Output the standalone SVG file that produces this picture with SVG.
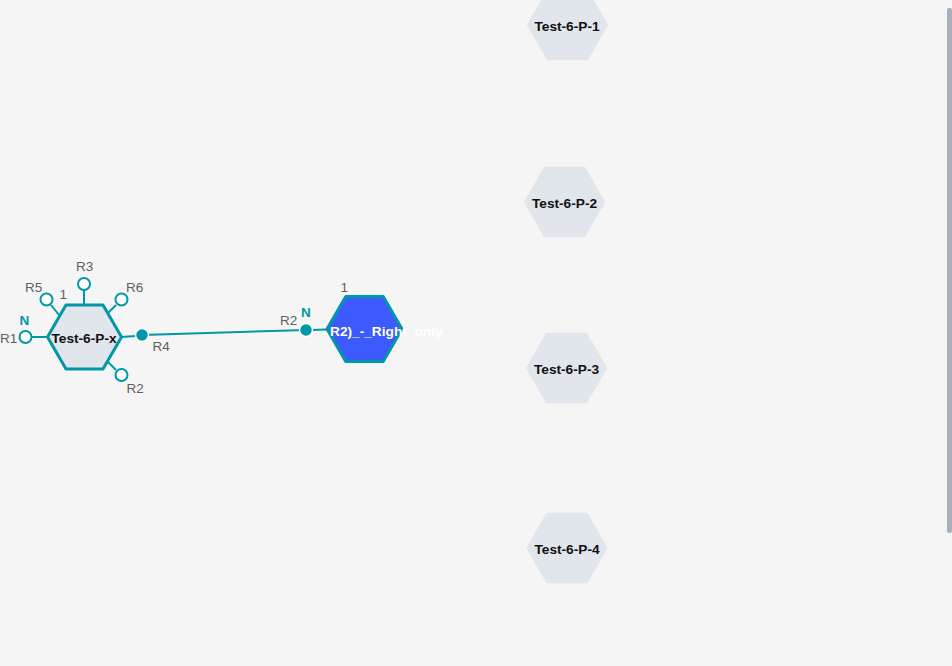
<svg xmlns="http://www.w3.org/2000/svg" width="952" height="666" viewBox="0 0 952 666">
<style>
.bg{fill:#f5f5f5}
.hex{fill:#e1e5ec;stroke:#e1e5ec;stroke-width:2;stroke-linejoin:round}
.hexs{fill:#e1e5ec;stroke:#0097a7;stroke-width:3;stroke-linejoin:round}
.hexb{fill:#3d5afe;stroke:#0097a7;stroke-width:3;stroke-linejoin:round}
.t{font-family:"Liberation Sans",Arial,sans-serif;font-weight:bold;font-size:13.7px;fill:#111}
.tw{font-family:"Liberation Sans",Arial,sans-serif;font-weight:bold;font-size:13.7px;fill:#ffffff}
.lbl{font-family:"Liberation Sans",Arial,sans-serif;font-size:13.5px;fill:#5f5f5f}
.n{font-family:"Liberation Sans",Arial,sans-serif;font-weight:bold;font-size:13.5px;fill:#0097a7}
.stub{stroke:#0097a7;stroke-width:2;fill:none}
.pin{fill:#ffffff;stroke:#0097a7;stroke-width:2}
.pout{fill:#0097a7;stroke:#ffffff;stroke-width:1.5}
.edge{stroke:#0097a7;stroke-width:2;fill:none}
</style>
<rect class="bg" x="0" y="0" width="952" height="666"/>
<g id="connectors">
<line class="edge" x1="142" y1="335" x2="306" y2="330"/>
</g>
<g id="node-Test-6-P-1">
<polygon class="hex" points="528,25 547.75,-9.2 587.25,-9.2 607,25 587.25,59.2 547.75,59.2"/>
<text class="t" x="567" y="31" text-anchor="middle">Test-6-P-1</text>
</g>
<g id="node-Test-6-P-2">
<polygon class="hex" points="525,202 544.75,167.8 584.25,167.8 604,202 584.25,236.2 544.75,236.2"/>
<text class="t" x="564.5" y="208" text-anchor="middle">Test-6-P-2</text>
</g>
<g id="node-Test-6-P-3">
<polygon class="hex" points="527,368 546.75,333.8 586.25,333.8 606,368 586.25,402.2 546.75,402.2"/>
<text class="t" x="566.5" y="374" text-anchor="middle">Test-6-P-3</text>
</g>
<g id="node-Test-6-P-4">
<polygon class="hex" points="527.5,548 547.25,513.8 586.75,513.8 606.5,548 586.75,582.2 547.25,582.2"/>
<text class="t" x="567" y="554" text-anchor="middle">Test-6-P-4</text>
</g>
<g id="node-Test-6-P-x">
<line class="stub" x1="32" y1="337" x2="47" y2="337"/>
<line class="stub" x1="51" y1="305" x2="59" y2="315"/>
<line class="stub" x1="84" y1="290" x2="84" y2="305"/>
<line class="stub" x1="116" y1="305" x2="108" y2="313"/>
<line class="stub" x1="116" y1="370" x2="108" y2="362"/>
<line class="stub" x1="121" y1="337" x2="136" y2="336"/>
<polygon class="hexs" points="47.5,337 66,305 103,305 121.5,337 103,369 66,369"/>
<text class="t" x="84" y="342.5" text-anchor="middle">Test-6-P-x</text>
<circle class="pin" cx="25.5" cy="337" r="6"/>
<circle class="pin" cx="46.5" cy="299.5" r="6"/>
<circle class="pin" cx="84" cy="284" r="6"/>
<circle class="pin" cx="121.5" cy="299.5" r="6"/>
<circle class="pin" cx="121.5" cy="375" r="6"/>
<circle class="pout" cx="142" cy="335" r="6.5"/>
<text class="lbl" x="0" y="342.5">R1</text>
<text class="lbl" x="25" y="291.5">R5</text>
<text class="lbl" x="76" y="271">R3</text>
<text class="lbl" x="126" y="291.5">R6</text>
<text class="lbl" x="152.5" y="351">R4</text>
<text class="lbl" x="126.5" y="393">R2</text>
<text class="n" x="19.5" y="325">N</text>
<text class="lbl" x="59.5" y="299">1</text>
</g>
<g id="node-R2-Right-only">
<line class="stub" x1="311" y1="330" x2="327" y2="329.5"/>
<polygon class="hexb" points="327,329 345.75,296.5 383.25,296.5 402,329 383.25,361.5 345.75,361.5"/>
<text class="tw" x="330" y="335.5">R2)_-_Right_only</text>
<circle class="pout" cx="306" cy="330" r="6.5"/>
<text class="lbl" x="280" y="324.5">R2</text>
<text class="n" x="301" y="316.5">N</text>
<text class="lbl" x="340.5" y="292">1</text>
</g>
<rect x="947" y="8" width="5" height="525" rx="2" fill="#a9b0bb"/>
</svg>
